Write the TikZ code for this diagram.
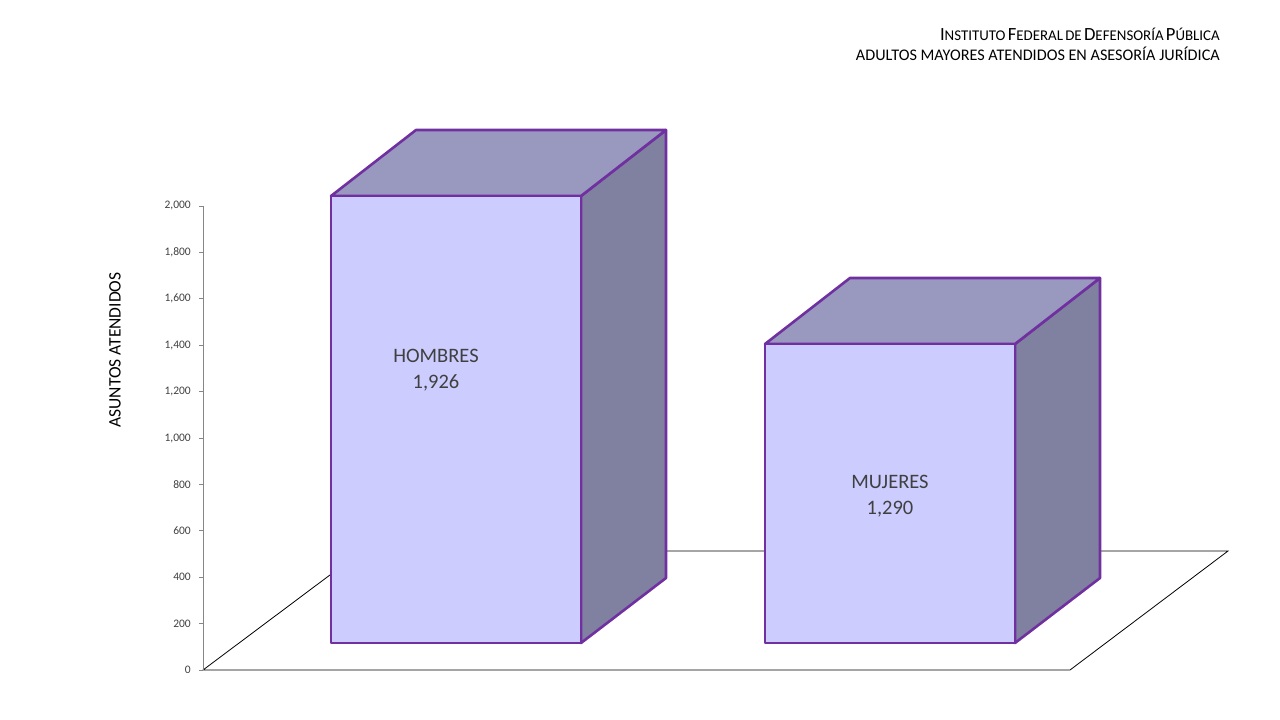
\documentclass[tikz,border=0pt]{standalone}
\usepackage{fontspec}
\setmainfont{Carlito}
\definecolor{barfront}{HTML}{CCCCFF}
\definecolor{bartop}{HTML}{9999C0}
\definecolor{barside}{HTML}{8080A0}
\definecolor{barline}{HTML}{7030A0}
\definecolor{axisgray}{HTML}{868686}
\definecolor{labelgray}{HTML}{404040}
\newcommand\capsm[2]{{\fontsize{18.6}{22}\selectfont #1}{\fontsize{14.9}{18}\selectfont #2}}

\begin{document}
\begin{tikzpicture}[x=1pt,y=-1pt,
  bar line/.style={draw=barline,line width=2.6pt,line join=round},
  tick label/.style={anchor=east,inner sep=0pt,text=labelgray,
    font=\fontsize{11.5}{13}\selectfont},
  bar label/.style={align=center,text=labelgray,
    font=\fontsize{20.5}{26}\selectfont}]

  \useasboundingbox (0,0) rectangle (1280,720);

  % floor
  \draw[line width=0.8pt] (203,670) -- (1070,670) -- (1228,551)
    -- (362,551) -- cycle;

  % axis and ticks
  \draw[axisgray,line width=0.9pt] (203,206) -- (203,670);
  \foreach \lab [count=\i from 0] in {0,200,400,600,800,{1,000},{1,200},
      {1,400},{1,600},{1,800},{2,000}} {
    \draw[axisgray,line width=0.9pt] (199,670-\i*46.4) -- (203,670-\i*46.4);
    \node[tick label] (t\i) at (191,670-\i*46.4) {\lab};
  }

  % bars
  \foreach \x/\y in {331/196,765/344} {
    \filldraw[bar line,fill=barside] (\x+250,\y) -- ++(85,-66)
      -- (\x+335,578) -- (\x+250,643) -- cycle;
    \filldraw[bar line,fill=bartop] (\x,\y) -- ++(85,-66) -- ++(250,0)
      -- ++(-85,66) -- cycle;
    \filldraw[bar line,fill=barfront] (\x,\y) rectangle (\x+250,643);
  }

  \node[bar label] (hombres) at (436,370) {HOMBRES\\1,926};
  \node[bar label] (mujeres) at (890,496) {MUJERES\\1,290};

  \node[rotate=90,font=\fontsize{17.5}{20}\selectfont] (ejey) at (115,350)
    {ASUNTOS ATENDIDOS};

  % heading
  \node[anchor=base east,inner sep=0pt] (titulo) at (1220,40)
    {\capsm{I}{NSTITUTO} \capsm{F}{EDERAL} \capsm{}{DE} \capsm{D}{EFENSORÍA}
     \capsm{P}{ÚBLICA}};
  \node[anchor=base east,inner sep=0pt,font=\fontsize{16.2}{19}\selectfont]
    (subtitulo) at (1220,60) {ADULTOS MAYORES ATENDIDOS EN ASESORÍA JURÍDICA};
\end{tikzpicture}
\end{document}
